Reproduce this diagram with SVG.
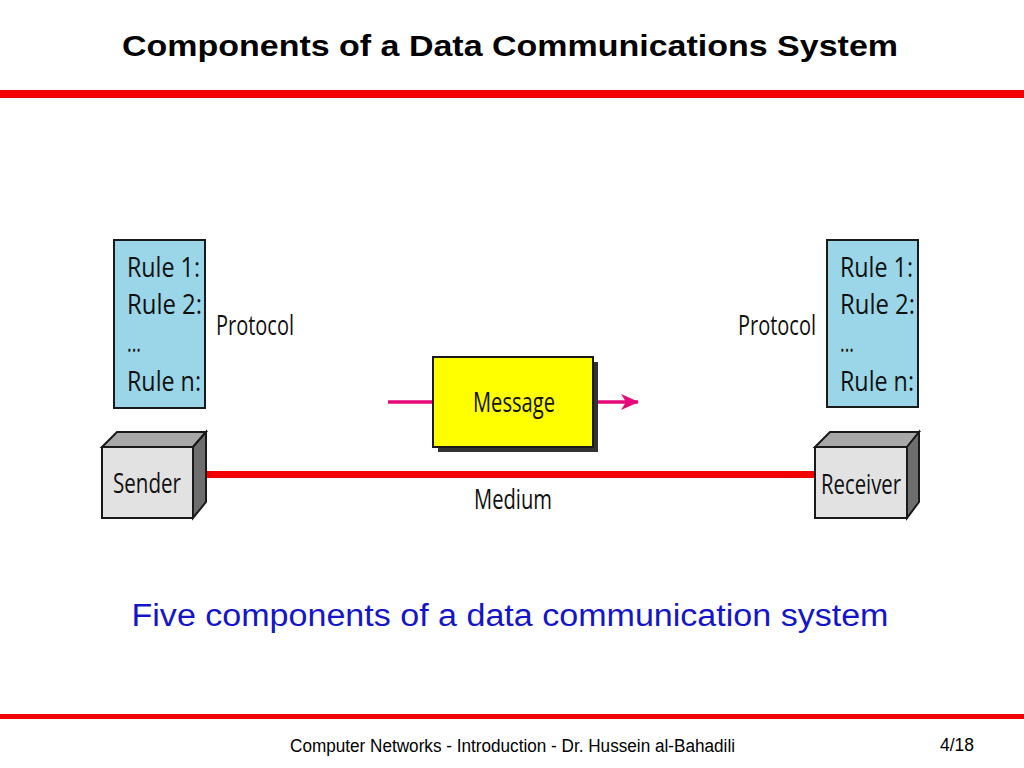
<svg xmlns="http://www.w3.org/2000/svg" width="1024" height="768" viewBox="0 0 1024 768">
<style>
.title{font-family:"Liberation Sans",Arial,sans-serif;font-weight:bold;font-size:29px;fill:#000}
.lbl{font-family:"Open Sans","Liberation Sans",sans-serif;font-size:27px;fill:#111}
.rule{font-family:"Open Sans","Liberation Sans",sans-serif;font-size:28px;fill:#111}
.cap{font-family:"Liberation Sans",Arial,sans-serif;font-size:31px;fill:#1515c8}
.foot{font-family:"Liberation Sans Narrow","Liberation Sans",Arial,sans-serif;font-size:18px;fill:#000}
.proto{fill:#9ad6e8;stroke:#1a1a1a;stroke-width:2}
.front{fill:#e2e2e2;stroke:#1a1a1a;stroke-width:2}
.top{fill:#a8a8a8;stroke:#1a1a1a;stroke-width:2}
.side{fill:#6e6e6e;stroke:#1a1a1a;stroke-width:2}
.bar{fill:#f20000}
</style>
<defs>
<marker id="ah" viewBox="0 0 18 16" refX="17" refY="8" markerWidth="18" markerHeight="16" markerUnits="userSpaceOnUse" orient="auto">
<path d="M0,0 L18,8 L0,16 L5,8 Z" fill="#e6097a"/>
</marker>
</defs>
<rect width="1024" height="768" fill="#fff"/>
<text class="title" x="510" y="56" text-anchor="middle" textLength="776" lengthAdjust="spacingAndGlyphs">Components of a Data Communications System</text>
<rect class="bar" x="0" y="90" width="1024" height="8"/>
<rect class="bar" x="0" y="714" width="1024" height="5"/>

<g id="connectors">
<rect id="medium-line" x="198" y="471" width="618" height="7" fill="#f20000"/>
<line x1="388" y1="402" x2="434" y2="402" stroke="#e6097a" stroke-width="3.5"/>
<line x1="594" y1="402" x2="638" y2="402" stroke="#e6097a" stroke-width="3.5" marker-end="url(#ah)"/>
</g>

<g id="protocol-left">
<rect class="proto" x="114" y="240" width="91" height="168"/>
<text class="rule" x="127" y="277" textLength="73" lengthAdjust="spacingAndGlyphs">Rule 1:</text>
<text class="rule" x="127" y="314" textLength="75" lengthAdjust="spacingAndGlyphs">Rule 2:</text>
<text class="rule" x="127" y="352" textLength="14" lengthAdjust="spacingAndGlyphs">...</text>
<text class="rule" x="127" y="391" textLength="74" lengthAdjust="spacingAndGlyphs">Rule n:</text>
<text class="lbl" x="216" y="335" textLength="78" lengthAdjust="spacingAndGlyphs">Protocol</text>
</g>

<g id="protocol-right">
<rect class="proto" x="827" y="240" width="91" height="167"/>
<text class="rule" x="840" y="277" textLength="73" lengthAdjust="spacingAndGlyphs">Rule 1:</text>
<text class="rule" x="840" y="314" textLength="75" lengthAdjust="spacingAndGlyphs">Rule 2:</text>
<text class="rule" x="840" y="352" textLength="14" lengthAdjust="spacingAndGlyphs">...</text>
<text class="rule" x="840" y="391" textLength="74" lengthAdjust="spacingAndGlyphs">Rule n:</text>
<text class="lbl" x="738" y="335" textLength="78" lengthAdjust="spacingAndGlyphs">Protocol</text>
</g>

<g id="sender">
<polygon class="top" points="102,447 117,432 206,432 193,447"/>
<polygon class="side" points="193,447 206,432 206,502 193,518"/>
<rect class="front" x="102" y="447" width="91" height="71"/>
<text class="lbl" x="147" y="493" text-anchor="middle" textLength="68" lengthAdjust="spacingAndGlyphs">Sender</text>
</g>

<g id="receiver">
<polygon class="top" points="815,447 830,432 919,432 907,447"/>
<polygon class="side" points="907,447 919,432 919,502 907,518"/>
<rect class="front" x="815" y="447" width="92" height="71"/>
<text class="lbl" x="861" y="494" text-anchor="middle" textLength="80" lengthAdjust="spacingAndGlyphs">Receiver</text>
</g>

<g id="message">
<rect x="438" y="362" width="160" height="90" fill="#333"/>
<rect x="433" y="357" width="160" height="90" fill="#ffff00" stroke="#1a1a1a" stroke-width="2"/>
<text class="lbl" x="514" y="412" text-anchor="middle" textLength="82" lengthAdjust="spacingAndGlyphs">Message</text>
</g>

<g id="medium">
<text class="lbl" x="513" y="509" text-anchor="middle" textLength="78" lengthAdjust="spacingAndGlyphs">Medium</text>
</g>

<text class="cap" x="510" y="626" text-anchor="middle" textLength="757" lengthAdjust="spacingAndGlyphs">Five components of a data communication system</text>
<text class="foot" x="290" y="752" textLength="445" lengthAdjust="spacingAndGlyphs">Computer Networks - Introduction - Dr. Hussein al-Bahadili</text>
<text class="foot" x="940" y="751" textLength="34" lengthAdjust="spacingAndGlyphs">4/18</text>
</svg>
